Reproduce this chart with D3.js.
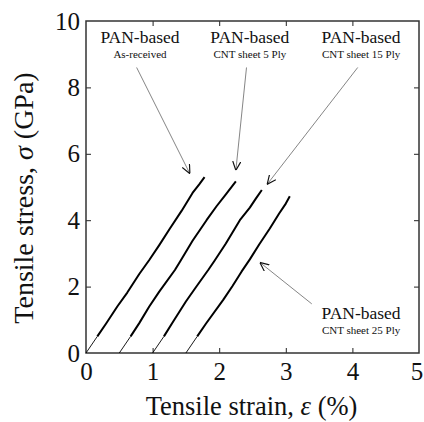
<!DOCTYPE html>
<html>
<head>
<meta charset="utf-8">
<script src="https://cdn.jsdelivr.net/npm/d3@7"></script>
<style>
  body { margin: 0; background: #fff; }
  svg text { font-family: "Liberation Serif", "DejaVu Serif", serif !important; }
</style>
</head>
<body>
<div id="chart"></div>
<script>
// Stress-strain curves: [strain %, stress GPa]
const asReceived = [[0, 0], [0.17, 0.5], [0.3, 0.88], [0.47, 1.4], [0.62, 1.82], [0.8, 2.38], [0.95, 2.8],
  [1.1, 3.25], [1.26, 3.75], [1.435, 4.28], [1.6, 4.82], [1.7, 5.08], [1.78, 5.3]];
const ply5 = [[0.5, 0], [0.67, 0.5], [0.8, 0.9], [0.95, 1.4], [1.1, 1.85], [1.335, 2.5], [1.42, 2.78],
  [1.6, 3.38], [1.81, 4.0], [1.96, 4.42], [2.1, 4.78], [2.25, 5.17]];
const ply15 = [[1.0, 0], [1.17, 0.5], [1.3, 0.92], [1.5, 1.55], [1.65, 1.98], [1.835, 2.5], [1.93, 2.78],
  [2.1, 3.3], [2.31, 4.0], [2.46, 4.38], [2.55, 4.65], [2.64, 4.91]];
const ply25 = [[1.5, 0], [1.67, 0.5], [1.8, 0.88], [2.06, 1.6], [2.2, 2.02], [2.335, 2.45], [2.46, 2.82],
  [2.6, 3.27], [2.76, 3.75], [2.9, 4.2], [3.0, 4.5], [3.06, 4.72]];

const seriesData = [asReceived, ply5, ply15, ply25];
const xTicks = [0, 1, 2, 3, 4, 5];
const yTicks = [0, 2, 4, 6, 8, 10];

// Annotation labels: title, subtitle, label anchor (data units), arrow start / tip (data units)
const labelTitles = ['PAN-based', 'PAN-based', 'PAN-based', 'PAN-based'];
const labelSubs = ['As-received', 'CNT sheet 5 Ply', 'CNT sheet 15 Ply', 'CNT sheet 25 Ply'];
const labelPos = [[0.81, 9.35], [2.46, 9.35], [4.13, 9.35], [4.13, 1.03]];
const arrowFrom = [[0.76, 8.6], [2.41, 8.6], [4.08, 8.6], [3.39, 1.48]];
const arrowTo = [[1.56, 5.40], [2.25, 5.50], [2.72, 5.08], [2.61, 2.73]];

const margin = { top: 21, right: 5, bottom: 69, left: 86 };
const W = 424, H = 422;
const width = W - margin.left - margin.right;
const height = H - margin.top - margin.bottom;

const svg = d3.select('#chart').append('svg')
  .attr('width', W)
  .attr('height', H)
  .style('display', 'block');

svg.append('defs').append('marker')
  .attr('id', 'arrow')
  .attr('viewBox', '0 0 10 10')
  .attr('refX', 10).attr('refY', 5)
  .attr('markerWidth', 9).attr('markerHeight', 9)
  .attr('markerUnits', 'userSpaceOnUse')
  .attr('orient', 'auto')
  .append('path')
  .attr('d', 'M0,0.5 L10,5 L0,9.5')
  .attr('fill', 'none')
  .attr('stroke', '#111')
  .attr('stroke-width', 1.3);

const g = svg.append('g')
  .attr('transform', `translate(${margin.left},${margin.top})`);

const x = d3.scaleLinear().domain([0, 5]).range([0, width]);
const y = d3.scaleLinear().domain([0, 10]).range([height, 0]);

// Tick labels (bottom / left)
const xAxis = g.append('g')
  .attr('transform', `translate(0,${height})`)
  .call(d3.axisBottom(x).tickValues(xTicks).tickFormat(d3.format('d'))
    .tickSizeInner(0).tickSizeOuter(0).tickPadding(9));
const yAxis = g.append('g')
  .call(d3.axisLeft(y).tickValues(yTicks).tickFormat(d3.format('d'))
    .tickSizeInner(0).tickSizeOuter(0).tickPadding(6));
[xAxis, yAxis].forEach(a => {
  a.attr('font-family', null);
  a.select('.domain').remove();
  a.selectAll('text')
    .style('font-size', '25px')
    .attr('fill', '#111');
});
// last x label sits right at the window edge, nudge it in a little
xAxis.selectAll('text').filter(d => d === 5).attr('dx', -2.5);

// Inward ticks on all four sides
const innerX = xTicks.slice(1, -1);
const innerY = yTicks.slice(1, -1);
const tickStyle = sel => {
  sel.select('.domain').remove();
  sel.selectAll('text').remove();
  sel.selectAll('line').attr('stroke', '#222').attr('stroke-width', 1);
};
g.append('g').attr('transform', `translate(0,${height})`)
  .call(d3.axisBottom(x).tickValues(innerX).tickSize(-5)).call(tickStyle);
g.append('g')
  .call(d3.axisTop(x).tickValues(innerX).tickSize(-5)).call(tickStyle);
g.append('g')
  .call(d3.axisLeft(y).tickValues(innerY).tickSize(-5)).call(tickStyle);
g.append('g').attr('transform', `translate(${width},0)`)
  .call(d3.axisRight(y).tickValues(innerY).tickSize(-5)).call(tickStyle);

// Frame
g.append('rect')
  .attr('width', width)
  .attr('height', height)
  .attr('fill', 'none')
  .attr('stroke', '#333')
  .attr('stroke-width', 1.5);

// Curves: thin lead-in segment then the thick measured part
const line = d3.line().x(d => x(d[0])).y(d => y(d[1]));
seriesData.forEach(s => {
  g.append('path')
    .datum(s.slice(0, 2))
    .attr('d', line)
    .attr('fill', 'none')
    .attr('stroke', '#000')
    .attr('stroke-width', 0.9);
  g.append('path')
    .datum(s.slice(1))
    .attr('d', line)
    .attr('fill', 'none')
    .attr('stroke', '#000')
    .attr('stroke-width', 2)
    .attr('stroke-linejoin', 'round');
});

// Annotation arrows
arrowFrom.forEach((p, i) => {
  g.append('line')
    .attr('x1', x(p[0])).attr('y1', y(p[1]))
    .attr('x2', x(arrowTo[i][0])).attr('y2', y(arrowTo[i][1]))
    .attr('stroke', '#777')
    .attr('stroke-width', 0.9)
    .attr('marker-end', 'url(#arrow)');
});

// Annotation labels
labelPos.forEach((p, i) => {
  const t = g.append('text')
    .attr('x', x(p[0]))
    .attr('y', y(p[1]))
    .attr('text-anchor', 'middle')
    .attr('fill', '#111');
  t.append('tspan').style('font-size', '17.5px').text(labelTitles[i]);
  t.append('tspan')
    .attr('x', x(p[0]))
    .attr('dy', 15)
    .style('font-size', '11px')
    .text(labelSubs[i]);
});

// Axis titles
const xTitle = svg.append('text')
  .attr('x', margin.left + width / 2 - 1)
  .attr('y', 415)
  .attr('text-anchor', 'middle')
  .style('font-size', '26.5px')
  .attr('fill', '#111');
xTitle.append('tspan').text('Tensile strain, ');
xTitle.append('tspan').attr('font-style', 'italic').text('ε');
xTitle.append('tspan').text(' (%)');

const yTitle = svg.append('text')
  .attr('transform', 'translate(33,198) rotate(-90)')
  .attr('text-anchor', 'middle')
  .style('font-size', '28px')
  .attr('fill', '#111');
yTitle.append('tspan').text('Tensile stress, ');
yTitle.append('tspan').attr('font-style', 'italic').text('σ');
yTitle.append('tspan').text(' (GPa)');
</script>
</body>
</html>
